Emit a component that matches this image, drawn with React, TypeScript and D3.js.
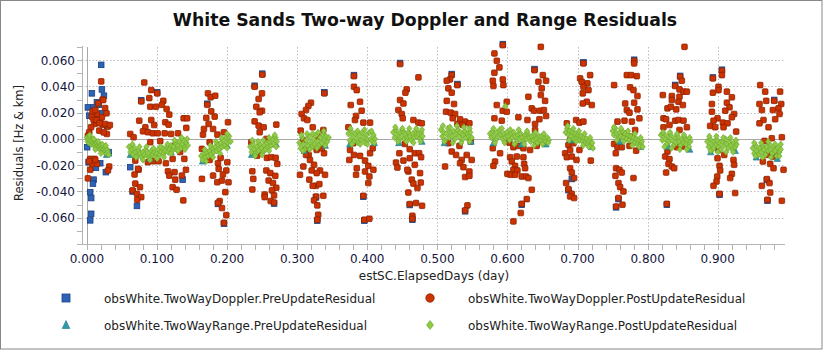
import React, { useEffect, useRef } from 'react';
import * as d3 from 'd3';

// chart text
const title = 'White Sands Two-way Doppler and Range Residuals';
const xLabel = 'estSC.ElapsedDays (day)';
const yLabel = 'Residuals [Hz & km]';
const seriesNames = [
  'obsWhite.TwoWayDoppler.PreUpdateResidual',
  'obsWhite.TwoWayDoppler.PostUpdateResidual',
  'obsWhite.TwoWayRange.PreUpdateResidual',
  'obsWhite.TwoWayRange.PostUpdateResidual',
];

// ticks
const xTicks = [0, 0.1, 0.2, 0.3, 0.4, 0.5, 0.6, 0.7, 0.8, 0.9];
const xTickLabels = ['0.000', '0.100', '0.200', '0.300', '0.400', '0.500', '0.600', '0.700', '0.800', '0.900'];
const yTicks = [-0.06, -0.04, -0.02, 0, 0.02, 0.04, 0.06];
const yTickLabels = ['-0.060', '-0.040', '-0.020', '0.000', '0.020', '0.040', '0.060'];
const xMinorTicks = d3.range(0, 50).map(i => i * 0.02);
const yMinorTicks = d3.range(-8, 8).map(i => i * 0.01);

type Pt = [number, number];

// Doppler pre-update residuals (blue, mostly hidden under post values)
const dopplerPre: Pt[] = [
  [0.0204, 0.0564], [0.0214, 0.0377], [0.0071, 0.0347], [0.0243, 0.0329], [0.0014, 0.024], [0.0143, 0.0279],
  [0.0095, 0.024], [0.0033, 0.0177], [0.0214, 0.0195], [0.0285, 0.0101], [0.0024, -0.0177], [0.019, -0.0185],
  [0.0128, -0.022], [0.0095, -0.031], [0.027, -0.0253], [0.0086, -0.034], [0.0047, -0.0405], [0.0061, -0.045],
  [0.0061, -0.057], [0.0047, -0.062], [0.0004, -0.0063], [0.031, -0.010], [0.0171, 0.026], [0.012, 0.018],
  [0.0714, -0.051], [0.0618, -0.0215], [0.1366, -0.031], [0.0775, 0.0295], [0.1003, 0.0355], [0.0652, -0.040],
  [0.1955, -0.0645], [0.1717, 0.0268], [0.187, -0.0495], [0.2502, 0.0497], [0.2393, 0.0405], [0.267, -0.0492],
  [0.3287, -0.0622], [0.3269, -0.0445], [0.3388, 0.0355], [0.381, 0.0486], [0.3958, -0.0622], [0.3944, -0.044],
  [0.4644, -0.0615], [0.4468, 0.0578], [0.4606, -0.0503], [0.5205, 0.0494], [0.5396, -0.0551], [0.5286, 0.0418],
  [0.5934, 0.0722], [0.6386, 0.0532], [0.6204, -0.0501], [0.7084, 0.0583], [0.6918, -0.0305], [0.687, -0.039],
  [0.7808, 0.0603], [0.7584, -0.0458], [0.755, -0.0521], [0.8464, 0.048], [0.8274, -0.0501], [0.8393, 0.0411],
  [0.906, 0.0527], [0.9026, -0.0425], [0.8931, 0.0468], [0.9701, -0.0313], [0.971, -0.047], [0.9806, 0.0297],
];

// Doppler post-update residuals (red)
const dopplerPost: Pt[] = [
  // pass 1
  [0.0204, 0.0438], [0.0224, 0.030], [0.026, 0.0235], [0.0143, 0.019], [0.0071, 0.017], [0.011, 0.0114],
  [0.019, 0.0144], [0.0224, 0.0109], [0.0176, 0.0063], [0.0033, 0.0051], [0.0014, 0.0025], [0.0285, 0.0038],
  [0.030, 0.0094], [0.026, 0.0114], [0.0214, 0.0165], [0.0095, 0.0144], [0.0047, -0.0152], [0.011, -0.0152],
  [0.0071, -0.019], [0.0047, -0.0235], [0.0014, -0.030], [0.0318, -0.021], [0.030, -0.024], [0.0033, -0.017],
  [0.0143, -0.019], [0.0119, -0.016], [0.0138, 0.0144], [0.0233, 0.0296], [0.028, 0.0195], [0.0328, 0.0106],
  [0.008, 0.021], [0.016, 0.027], [0.012, 0.022], [0.018, 0.012], [0.024, 0.005], [0.006, 0.009],
  // pass 2
  [0.0818, 0.043], [0.0918, 0.0372], [0.1003, 0.0347], [0.089, 0.0311], [0.0775, 0.0286], [0.109, 0.029],
  [0.107, 0.026], [0.0904, 0.0245], [0.0985, 0.0245], [0.1137, 0.0228], [0.1175, 0.0185], [0.138, 0.0157],
  [0.143, 0.0157], [0.0747, 0.0139], [0.0918, 0.0144], [0.1118, 0.0127], [0.0833, 0.0089], [0.096, 0.0106],
  [0.1166, 0.0109], [0.080, 0.0058], [0.087, 0.0051], [0.094, 0.0043], [0.101, 0.0043], [0.111, 0.0043],
  [0.120, 0.0038], [0.130, 0.0043], [0.1418, 0.0084], [0.0618, 0.0038], [0.0666, 0.0013], [0.0904, -0.0025],
  [0.1046, -0.0017], [0.126, -0.005], [0.133, -0.010], [0.139, -0.0152], [0.069, -0.0165], [0.087, -0.0177],
  [0.095, -0.017], [0.1023, -0.017], [0.1127, -0.0185], [0.1223, -0.0152], [0.0738, -0.0235], [0.1156, -0.0246],
  [0.125, -0.0253], [0.1413, -0.0235], [0.1356, -0.0279], [0.1175, -0.0279], [0.126, -0.031], [0.1223, -0.0367],
  [0.128, -0.0387], [0.069, -0.034], [0.0757, -0.0367], [0.0652, -0.0392], [0.0714, -0.0418], [0.0775, -0.0443],
  [0.0718, -0.0463], [0.1375, -0.0468], [0.073, -0.0228], [0.068, -0.0271],
  // pass 3
  [0.1727, 0.0347], [0.1766, 0.0317], [0.1831, 0.0329], [0.1717, 0.026], [0.1774, 0.021], [0.1823, 0.017],
  [0.1703, 0.016], [0.1737, 0.0114], [0.2013, 0.0127], [0.180, 0.0076], [0.167, 0.0076], [0.1862, 0.0033],
  [0.1955, 0.0051], [0.1656, 0.0033], [0.1751, -0.0025], [0.1641, -0.0076], [0.1703, -0.0114], [0.1751, -0.016],
  [0.1908, -0.0144], [0.2003, -0.0177], [0.187, -0.0185], [0.188, -0.0228], [0.1989, -0.024], [0.180, -0.0279],
  [0.1941, -0.0271], [0.1641, -0.0304], [0.186, -0.033], [0.202, -0.033], [0.1927, -0.0317], [0.1975, -0.0405],
  [0.1894, -0.0473], [0.1927, -0.0526], [0.1989, -0.058], [0.1955, -0.0638], [0.187, -0.0488],
  // pass 4
  [0.2502, 0.0489], [0.2393, 0.0397], [0.2498, 0.0347], [0.245, 0.0304], [0.2417, 0.0245], [0.2498, 0.0215],
  [0.2465, 0.0203], [0.2393, 0.0134], [0.2702, 0.0109], [0.245, 0.0101], [0.2522, 0.0089], [0.2465, 0.0051],
  [0.2345, -0.0025], [0.256, 0.000], [0.243, -0.0127], [0.2498, -0.0089], [0.2569, -0.0144], [0.263, -0.0139],
  [0.2693, -0.0144], [0.2716, -0.019], [0.236, -0.0246], [0.256, -0.024], [0.2617, -0.026], [0.2688, -0.0281],
  [0.2374, -0.0304], [0.2593, -0.0317], [0.2655, -0.0336], [0.2702, -0.0372], [0.236, -0.0385], [0.264, -0.0392],
  [0.267, -0.043], [0.2536, -0.0423], [0.2622, -0.0473], [0.267, -0.0484], [0.2536, -0.0443],
  // pass 5
  [0.3388, 0.0347], [0.3197, 0.0276], [0.316, 0.0251], [0.3126, 0.022], [0.3064, 0.019], [0.3097, 0.0157],
  [0.3145, 0.0144], [0.3222, 0.0089], [0.305, 0.0063], [0.3373, 0.0068], [0.3088, -0.0008], [0.330, 0.0018],
  [0.3112, -0.0084], [0.3164, -0.0122], [0.3278, -0.0084], [0.3383, -0.0109], [0.304, -0.0273], [0.3088, -0.021],
  [0.3183, -0.016], [0.324, -0.0197], [0.3207, -0.024], [0.3326, -0.024], [0.3278, -0.026], [0.3173, -0.031],
  [0.3397, -0.0273], [0.3269, -0.0357], [0.3316, -0.0344], [0.3373, -0.0433], [0.3269, -0.0438], [0.324, -0.0468],
  [0.3287, -0.0506], [0.330, -0.0577], [0.3287, -0.0615], [0.3222, -0.0357], [0.3126, -0.0122], [0.335, -0.0071],
  // pass 6
  [0.381, 0.0478], [0.381, 0.0397], [0.385, 0.0372], [0.3897, 0.0283], [0.3764, 0.0258], [0.384, 0.0175],
  [0.392, 0.0215], [0.3825, 0.0144], [0.3944, 0.0124], [0.404, 0.0124], [0.373, 0.0089], [0.380, -0.0033],
  [0.3754, -0.0084], [0.381, -0.0122], [0.3744, -0.016], [0.385, -0.0223], [0.3897, -0.0129], [0.3968, -0.0165],
  [0.404, -0.0109], [0.4078, -0.0071], [0.4015, -0.0205], [0.3968, -0.0248], [0.403, -0.0286], [0.384, -0.0273],
  [0.4015, -0.0336], [0.4087, -0.0235], [0.3944, -0.0433], [0.3958, -0.0615], [0.403, -0.0608],
  // pass 7
  [0.4468, 0.057], [0.473, 0.0469], [0.4563, 0.0377], [0.4544, 0.0352], [0.4468, 0.0296], [0.4516, 0.027],
  [0.4444, 0.022], [0.4492, 0.019], [0.4506, 0.0157], [0.4658, 0.0144], [0.473, 0.0124], [0.4778, 0.0119],
  [0.4535, -0.0038], [0.4606, -0.0078], [0.4678, -0.0109], [0.474, -0.0109], [0.4458, -0.0109], [0.4768, -0.0139],
  [0.4516, -0.0165], [0.4606, -0.0147], [0.441, -0.018], [0.443, -0.0218], [0.4678, -0.0197], [0.4586, -0.0248],
  [0.4753, -0.026], [0.4635, -0.031], [0.4658, -0.034], [0.4763, -0.0332], [0.4716, -0.0374], [0.4586, -0.0408],
  [0.4606, -0.0496], [0.4696, -0.0488], [0.4782, -0.0509], [0.4644, -0.0585], [0.4644, -0.0608], [0.4572, -0.0235],
  // pass 8
  [0.5205, 0.0486], [0.518, 0.0453], [0.5134, 0.0443], [0.5286, 0.041], [0.5157, 0.0385], [0.5205, 0.0352],
  [0.5134, 0.029], [0.5238, 0.0266], [0.5124, 0.0207], [0.5191, 0.020], [0.5253, 0.019], [0.5219, 0.0157],
  [0.5324, 0.015], [0.5396, 0.0132], [0.5286, 0.0114], [0.5362, 0.0106], [0.5457, 0.0119], [0.5477, -0.002],
  [0.5157, -0.0033], [0.5315, -0.0053], [0.5205, -0.0096], [0.5267, -0.0122], [0.5348, -0.016], [0.5419, -0.0122],
  [0.549, -0.016], [0.511, -0.021], [0.5324, -0.0185], [0.5372, -0.0215], [0.5457, -0.0248], [0.5396, -0.029],
  [0.5457, -0.0281], [0.5429, -0.0506], [0.5396, -0.0544],
  // pass 9
  [0.5934, 0.0714], [0.5814, 0.0651], [0.5848, 0.0595], [0.5885, 0.0545], [0.5814, 0.0504], [0.6476, 0.0701],
  [0.5791, 0.0443], [0.5934, 0.0453], [0.580, 0.0403], [0.5942, 0.041], [0.6386, 0.0524], [0.6505, 0.0486],
  [0.6442, 0.0435], [0.6551, 0.0443], [0.6489, 0.0385], [0.6299, 0.0321], [0.6476, 0.0334], [0.6537, 0.029],
  [0.5848, 0.0258], [0.599, 0.0283], [0.5933, 0.0215], [0.599, 0.0207], [0.6347, 0.0233], [0.638, 0.0215],
  [0.6466, 0.0215], [0.652, 0.022], [0.5814, 0.0157], [0.5919, 0.0139], [0.6156, 0.0165], [0.6285, 0.0144],
  [0.6456, 0.015], [0.6551, 0.0175], [0.6394, 0.0114], [0.6394, 0.0068], [0.6027, -0.0028], [0.6085, -0.0063],
  [0.6156, -0.0053], [0.6228, -0.0071], [0.6323, -0.0084], [0.6418, -0.0053], [0.5791, -0.0071], [0.5895, -0.0109],
  [0.6038, -0.0139], [0.6133, -0.0134], [0.6228, -0.0139], [0.5823, -0.0172], [0.580, -0.0205], [0.6062, -0.0172],
  [0.6109, -0.0205], [0.6238, -0.019], [0.6252, -0.0223], [0.6085, -0.0235], [0.6142, -0.024], [0.5999, -0.0266],
  [0.6047, -0.0273], [0.6109, -0.0273], [0.6204, -0.0286], [0.6266, -0.0286], [0.6299, -0.0298], [0.6347, -0.0387],
  [0.6276, -0.0458], [0.6204, -0.0494], [0.619, -0.0564], [0.6085, -0.0628],
  // pass 10
  [0.7084, 0.0575], [0.7037, 0.0461], [0.718, 0.0486], [0.7061, 0.0435], [0.714, 0.0423], [0.7084, 0.0397],
  [0.7156, 0.0372], [0.7075, 0.0347], [0.7132, 0.0283], [0.7203, 0.0258], [0.7075, 0.027], [0.698, 0.0144],
  [0.7027, 0.0124], [0.7084, 0.0132], [0.6847, 0.0119], [0.6894, -0.0008], [0.687, -0.0046], [0.6942, -0.0033],
  [0.6823, -0.0109], [0.6894, -0.0084], [0.7027, -0.0084], [0.6847, -0.0139], [0.6918, -0.0134], [0.6985, -0.016],
  [0.7189, -0.0165], [0.6894, -0.0223], [0.6918, -0.0256], [0.6951, -0.0298], [0.6837, -0.0336], [0.687, -0.0382],
  [0.6918, -0.0418], [0.6894, -0.0438], [0.6951, -0.045],
  // pass 11
  [0.7808, 0.0595], [0.7808, 0.0575], [0.7703, 0.0486], [0.7765, 0.0486], [0.7846, 0.0478], [0.7522, 0.041],
  [0.775, 0.0393], [0.7798, 0.0372], [0.7855, 0.0327], [0.768, 0.027], [0.7808, 0.0276], [0.7703, 0.022],
  [0.7741, 0.020], [0.7855, 0.0225], [0.767, 0.0139], [0.757, 0.0132], [0.7775, 0.0132], [0.7883, 0.0157],
  [0.7646, 0.003], [0.775, 0.0018], [0.7822, 0.0068], [0.7522, -0.0038], [0.757, -0.0063], [0.7632, -0.0063],
  [0.7741, -0.0053], [0.7836, -0.0089], [0.7546, -0.0109], [0.755, -0.0223], [0.7598, -0.0235], [0.7632, -0.0256],
  [0.7541, -0.0281], [0.7584, -0.0336], [0.7608, -0.0367], [0.7655, -0.040], [0.7798, -0.0298], [0.7584, -0.045],
  [0.755, -0.0514], [0.7641, -0.0501],
  // pass 12
  [0.8526, 0.0701], [0.8464, 0.0473], [0.8488, 0.0443], [0.8393, 0.0403], [0.8455, 0.0377], [0.8512, 0.036],
  [0.856, 0.036], [0.8217, 0.0334], [0.8346, 0.0327], [0.8346, 0.0296], [0.8455, 0.0321], [0.844, 0.0283],
  [0.8503, 0.0258], [0.8283, 0.0233], [0.8331, 0.0245], [0.8408, 0.0225], [0.8226, 0.0157], [0.8264, 0.015],
  [0.8393, 0.0139], [0.844, 0.0144], [0.8512, 0.0139], [0.856, 0.0089], [0.8312, 0.0106], [0.8226, 0.0089],
  [0.8455, 0.0068], [0.8283, -0.0096], [0.825, -0.0134], [0.8312, -0.0154], [0.8298, -0.019], [0.8346, -0.021],
  [0.8264, -0.0256], [0.8379, -0.0223], [0.8274, -0.0494], [0.8417, -0.0063], [0.8488, -0.0058],
  // pass 13
  [0.906, 0.0519], [0.906, 0.0486], [0.8931, 0.0461], [0.9011, 0.0397], [0.9011, 0.0372], [0.9131, 0.036],
  [0.8931, 0.0352], [0.9202, 0.0317], [0.9131, 0.0276], [0.8917, 0.0266], [0.9168, 0.0241], [0.9107, 0.0215],
  [0.8917, 0.0207], [0.9234, 0.019], [0.8997, 0.0157], [0.9202, 0.0165], [0.894, 0.0139], [0.9074, 0.0124],
  [0.914, 0.0119], [0.8892, 0.0099], [0.8964, 0.0089], [0.9083, 0.0089], [0.9263, 0.0056], [0.9011, -0.0084],
  [0.9093, -0.0122], [0.8997, -0.0147], [0.9225, -0.016], [0.9234, -0.0197], [0.9026, -0.0205], [0.9035, -0.024],
  [0.9202, -0.0266], [0.8993, -0.0286], [0.9178, -0.0298], [0.8983, -0.0324], [0.894, -0.0357], [0.9026, -0.0418],
  [0.9249, -0.0412],
  // pass 14
  [0.9606, 0.041], [0.989, 0.036], [0.9677, 0.036], [0.9806, 0.029], [0.9692, 0.029], [0.9906, 0.0266],
  [0.9596, 0.0266], [0.9867, 0.0233], [0.9787, 0.022], [0.963, 0.022], [0.9882, 0.019], [0.982, 0.015],
  [0.9653, 0.0144], [0.9596, 0.0119], [0.9725, 0.0089], [0.9915, 0.0013], [0.9772, 0.0005], [0.9667, -0.0015],
  [0.963, -0.0071], [0.9701, -0.0122], [0.9644, -0.0172], [0.9749, -0.019], [0.9796, -0.0223], [0.9939, -0.0235],
  [0.9701, -0.0306], [0.9739, -0.0336], [0.963, -0.0357], [0.9749, -0.0408], [0.971, -0.0463], [0.9915, -0.0471],
  [0.9787, -0.0134], [0.9844, -0.0109],
];

// Range pre-update residuals (teal, peeking under the green band)
const rangePre: Pt[] = [
  [0.028, -0.012], [0.031, -0.011], [0.062, -0.012], [0.09, -0.015], [0.12, -0.010], [0.165, -0.017],
  [0.20, -0.005], [0.235, -0.012], [0.27, -0.004], [0.31, -0.009], [0.34, -0.005], [0.375, -0.004],
  [0.41, -0.003], [0.445, -0.003], [0.478, -0.002], [0.51, -0.003], [0.548, -0.002], [0.58, -0.003],
  [0.62, -0.004], [0.655, -0.004], [0.69, -0.001], [0.72, -0.006], [0.76, -0.002], [0.79, -0.006],
  [0.83, -0.006], [0.86, -0.008], [0.89, -0.010], [0.925, -0.009], [0.955, -0.014], [0.985, -0.015],
];

// Range post-update residuals (green)
const rangePost: Pt[] = [
  // pass 1
  [0.000, 0.001], [0.001, -0.002], [0.002, 0.000], [0.003, -0.003], [0.004, 0.001], [0.005, -0.001],
  [0.006, -0.004], [0.007, -0.002], [0.008, 0.000], [0.009, -0.003], [0.010, -0.005], [0.011, -0.002],
  [0.012, -0.004], [0.013, -0.006], [0.014, -0.003], [0.015, -0.005], [0.016, -0.007], [0.017, -0.004],
  [0.018, -0.006], [0.019, -0.008], [0.020, -0.005], [0.021, -0.007], [0.022, -0.009], [0.023, -0.006],
  [0.024, -0.008], [0.025, -0.010], [0.026, -0.007], [0.027, -0.009], [0.028, -0.011], [0.029, -0.008],
  [0.030, -0.010], [0.004, 0.003], [0.010, 0.000], [0.016, -0.002], [0.022, -0.004], [0.027, -0.005],
  [0.012, -0.008], [0.020, -0.011], [0.031, -0.012],
  // pass 2
  [0.060, -0.006], [0.062, -0.010], [0.064, -0.008], [0.066, -0.012], [0.068, -0.007], [0.070, -0.010],
  [0.072, -0.013], [0.074, -0.009], [0.076, -0.011], [0.078, -0.014], [0.080, -0.010], [0.082, -0.012],
  [0.084, -0.008], [0.086, -0.013], [0.088, -0.011], [0.090, -0.014], [0.092, -0.009], [0.094, -0.012],
  [0.096, -0.010], [0.098, -0.013], [0.100, -0.011], [0.102, -0.008], [0.104, -0.012], [0.106, -0.010],
  [0.108, -0.007], [0.110, -0.011], [0.112, -0.009], [0.114, -0.006], [0.116, -0.010], [0.118, -0.008],
  [0.120, -0.005], [0.122, -0.009], [0.124, -0.006], [0.126, -0.003], [0.128, -0.008], [0.130, -0.005],
  [0.132, -0.002], [0.134, -0.007], [0.136, -0.004], [0.138, -0.001], [0.140, -0.006], [0.142, -0.003],
  [0.144, -0.005], [0.065, -0.004], [0.075, -0.006], [0.085, -0.006], [0.095, -0.007], [0.105, -0.006],
  [0.115, -0.004], [0.125, -0.001], [0.135, 0.001], [0.143, 0.000], [0.070, -0.014], [0.080, -0.016],
  [0.090, -0.016], [0.100, -0.015], [0.110, -0.014], [0.120, -0.011], [0.130, -0.009], [0.140, -0.008],
  // pass 3
  [0.163, -0.013], [0.165, -0.016], [0.167, -0.011], [0.169, -0.014], [0.171, -0.010], [0.173, -0.013],
  [0.175, -0.009], [0.177, -0.012], [0.179, -0.007], [0.181, -0.010], [0.183, -0.006], [0.185, -0.009],
  [0.187, -0.004], [0.189, -0.008], [0.191, -0.003], [0.193, -0.006], [0.195, -0.001], [0.197, -0.005],
  [0.199, 0.001], [0.201, -0.003], [0.203, 0.002], [0.205, -0.002], [0.168, -0.008], [0.176, -0.005],
  [0.184, -0.002], [0.192, 0.001], [0.200, 0.004], [0.170, -0.017], [0.180, -0.014], [0.190, -0.011],
  [0.200, -0.007],
  // pass 4
  [0.233, -0.006], [0.235, -0.010], [0.237, -0.004], [0.239, -0.008], [0.241, -0.011], [0.243, -0.006],
  [0.245, -0.009], [0.247, -0.004], [0.249, -0.007], [0.251, -0.010], [0.253, -0.005], [0.255, -0.008],
  [0.257, -0.003], [0.259, -0.006], [0.261, -0.002], [0.263, -0.005], [0.265, 0.000], [0.267, -0.004],
  [0.269, 0.001], [0.271, -0.002], [0.236, -0.001], [0.244, -0.002], [0.252, -0.001], [0.260, 0.001],
  [0.268, 0.003], [0.240, -0.013], [0.250, -0.012], [0.260, -0.009], [0.270, -0.006],
  // pass 5
  [0.303, -0.003], [0.305, -0.007], [0.307, 0.001], [0.309, -0.004], [0.311, -0.008], [0.313, -0.001],
  [0.315, -0.005], [0.317, 0.002], [0.319, -0.003], [0.321, -0.006], [0.323, 0.000], [0.325, -0.004],
  [0.327, 0.003], [0.329, -0.002], [0.331, -0.005], [0.333, 0.001], [0.335, -0.003], [0.337, 0.003],
  [0.339, -0.001], [0.341, 0.002], [0.343, -0.002], [0.345, 0.001], [0.306, 0.003], [0.314, 0.004],
  [0.322, 0.004], [0.330, 0.005], [0.338, 0.006], [0.308, -0.009], [0.318, -0.008], [0.328, -0.007],
  [0.340, -0.005],
  // pass 6
  [0.373, 0.004], [0.375, -0.001], [0.377, 0.006], [0.379, 0.002], [0.381, -0.002], [0.383, 0.004],
  [0.385, 0.000], [0.387, -0.003], [0.389, 0.003], [0.391, -0.001], [0.393, 0.005], [0.395, 0.001],
  [0.397, -0.003], [0.399, 0.003], [0.401, -0.001], [0.403, 0.005], [0.405, 0.000], [0.407, -0.002],
  [0.409, 0.003], [0.411, 0.000], [0.376, 0.008], [0.386, 0.006], [0.396, 0.007], [0.406, 0.006],
  [0.378, -0.004], [0.390, -0.004], [0.400, -0.004], [0.410, -0.003],
  // pass 7
  [0.437, 0.005], [0.439, 0.001], [0.441, 0.007], [0.443, 0.003], [0.445, -0.001], [0.447, 0.005],
  [0.449, 0.002], [0.451, 0.006], [0.453, 0.000], [0.455, 0.004], [0.457, 0.001], [0.459, 0.005],
  [0.461, 0.002], [0.463, -0.001], [0.465, 0.004], [0.467, 0.001], [0.469, 0.006], [0.471, 0.002],
  [0.473, 0.004], [0.475, 0.000], [0.477, 0.005], [0.479, 0.002], [0.440, 0.009], [0.450, 0.008],
  [0.460, 0.008], [0.470, 0.008], [0.478, 0.007], [0.444, -0.002], [0.456, -0.002], [0.466, -0.003],
  [0.476, -0.002],
  // pass 8
  [0.505, 0.007], [0.507, 0.002], [0.509, 0.005], [0.511, -0.001], [0.513, 0.004], [0.515, 0.008],
  [0.517, 0.001], [0.519, 0.005], [0.521, 0.002], [0.523, 0.006], [0.525, 0.000], [0.527, 0.004],
  [0.529, 0.007], [0.531, 0.002], [0.533, 0.005], [0.535, -0.001], [0.537, 0.003], [0.539, 0.006],
  [0.541, 0.001], [0.543, 0.004], [0.545, 0.002], [0.547, 0.005], [0.549, 0.001], [0.508, 0.010],
  [0.518, 0.009], [0.528, 0.010], [0.538, 0.009], [0.546, 0.008], [0.510, -0.002], [0.522, -0.003],
  [0.534, -0.003], [0.546, -0.002],
  // pass 9
  [0.575, 0.004], [0.577, 0.001], [0.579, 0.006], [0.581, 0.002], [0.583, -0.001], [0.585, 0.005],
  [0.587, 0.002], [0.589, 0.007], [0.591, 0.003], [0.593, 0.000], [0.595, 0.004], [0.597, 0.001],
  [0.599, 0.005], [0.601, 0.002], [0.603, -0.001], [0.605, 0.004], [0.607, 0.001], [0.609, 0.005],
  [0.611, 0.002], [0.613, -0.002], [0.615, 0.003], [0.617, 0.000], [0.619, 0.004], [0.621, 0.001],
  [0.623, -0.002], [0.625, 0.003], [0.627, 0.000], [0.629, 0.004], [0.631, 0.001], [0.633, -0.002],
  [0.635, 0.002], [0.637, -0.001], [0.639, 0.003], [0.641, 0.000], [0.643, -0.003], [0.645, 0.002],
  [0.647, -0.001], [0.649, 0.002], [0.651, -0.002], [0.653, 0.001], [0.655, -0.002], [0.657, 0.001],
  [0.659, -0.001], [0.597, 0.025], [0.580, 0.008], [0.592, 0.008], [0.604, 0.007], [0.616, 0.007],
  [0.628, 0.006], [0.640, 0.005], [0.652, 0.004], [0.582, -0.003], [0.596, -0.003], [0.610, -0.004],
  [0.624, -0.004], [0.638, -0.005], [0.650, -0.004], [0.658, -0.003],
  // pass 10
  [0.683, 0.005], [0.685, 0.008], [0.687, 0.003], [0.689, 0.006], [0.691, 0.002], [0.693, 0.005],
  [0.695, 0.000], [0.697, 0.004], [0.699, 0.001], [0.701, 0.003], [0.703, -0.001], [0.705, 0.002],
  [0.707, -0.002], [0.709, 0.001], [0.711, -0.003], [0.713, 0.000], [0.715, -0.004], [0.717, -0.001],
  [0.719, -0.005], [0.721, -0.003], [0.686, 0.010], [0.694, 0.008], [0.702, 0.006], [0.710, 0.004],
  [0.718, 0.001], [0.688, -0.001], [0.698, -0.002], [0.708, -0.005], [0.716, -0.006], [0.722, -0.007],
  // pass 11
  [0.750, 0.006], [0.752, 0.003], [0.754, 0.008], [0.756, 0.004], [0.758, 0.001], [0.760, 0.005],
  [0.762, 0.002], [0.764, 0.006], [0.766, 0.001], [0.768, 0.004], [0.770, 0.000], [0.772, 0.003],
  [0.774, -0.001], [0.776, 0.002], [0.778, -0.002], [0.780, 0.001], [0.782, -0.003], [0.784, 0.000],
  [0.786, -0.004], [0.788, -0.001], [0.790, -0.004], [0.792, -0.002], [0.752, 0.009], [0.762, 0.008],
  [0.772, 0.006], [0.782, 0.004], [0.790, 0.001], [0.756, -0.001], [0.766, -0.002], [0.778, -0.005],
  [0.788, -0.006], [0.793, -0.006],
  // pass 12
  [0.819, 0.003], [0.821, -0.001], [0.823, 0.004], [0.825, 0.000], [0.827, -0.004], [0.829, 0.002],
  [0.831, -0.002], [0.833, 0.003], [0.835, -0.001], [0.837, -0.005], [0.839, 0.001], [0.841, -0.003],
  [0.843, 0.002], [0.845, -0.002], [0.847, -0.005], [0.849, 0.000], [0.851, -0.003], [0.853, 0.001],
  [0.855, -0.004], [0.857, -0.001], [0.859, -0.006], [0.861, -0.002], [0.822, 0.005], [0.832, 0.005],
  [0.842, 0.004], [0.852, 0.003], [0.860, 0.001], [0.824, -0.006], [0.834, -0.007], [0.846, -0.008],
  [0.856, -0.008],
  // pass 13
  [0.885, -0.002], [0.887, -0.006], [0.889, 0.000], [0.891, -0.004], [0.893, -0.008], [0.895, -0.002],
  [0.897, -0.005], [0.899, -0.001], [0.901, -0.006], [0.903, -0.003], [0.905, -0.008], [0.907, -0.002],
  [0.909, -0.005], [0.911, 0.000], [0.913, -0.004], [0.915, -0.007], [0.917, -0.002], [0.919, -0.005],
  [0.921, -0.008], [0.923, -0.003], [0.925, -0.006], [0.927, -0.004], [0.888, 0.002], [0.898, 0.002],
  [0.908, 0.001], [0.918, 0.001], [0.926, -0.001], [0.890, -0.009], [0.900, -0.010], [0.912, -0.010],
  [0.922, -0.010],
  // pass 14
  [0.950, -0.007], [0.952, -0.011], [0.954, -0.005], [0.956, -0.009], [0.958, -0.012], [0.960, -0.007],
  [0.962, -0.010], [0.964, -0.005], [0.966, -0.008], [0.968, -0.012], [0.970, -0.006], [0.972, -0.009],
  [0.974, -0.004], [0.976, -0.008], [0.978, -0.011], [0.980, -0.006], [0.982, -0.009], [0.984, -0.013],
  [0.986, -0.007], [0.988, -0.010], [0.990, -0.008], [0.952, -0.003], [0.962, -0.003], [0.972, -0.002],
  [0.982, -0.004], [0.990, -0.004], [0.954, -0.013], [0.964, -0.014], [0.976, -0.014], [0.988, -0.013],
];

const W = 824;
const H = 351;
const font = '"DejaVu Sans", Verdana, sans-serif';

const diamond = 'M0,-3.2L2.7,0L0,3.2L-2.7,0Z';
const triangle = 'M0,-3.4L3.2,2.8L-3.2,2.8Z';

const App = () => {
  const svgRef = useRef<SVGSVGElement>(null);

  useEffect(() => {
    document.body.style.margin = '0';
    const svg = d3.select(svgRef.current);
    svg.selectAll('*').remove();

    const x = d3.scaleLinear().domain([-0.007, 0.996]).range([82, 785]);
    const y = d3.scaleLinear().domain([-0.08, 0.07]).range([244, 47]);

    svg.append('rect')
      .attr('x', 0.5).attr('y', 0.5)
      .attr('width', W - 2.5).attr('height', H - 2.5)
      .attr('fill', '#fff').attr('stroke', '#888');

    svg.append('text')
      .attr('x', 425).attr('y', 26)
      .attr('text-anchor', 'middle')
      .attr('font-family', font).attr('font-weight', 'bold').attr('font-size', 17.3)
      .attr('fill', '#111')
      .text(title);

    // grid
    const grid = svg.append('g');
    grid.selectAll('.gy').data(yTicks.filter(v => v !== 0)).enter().append('line')
      .attr('x1', 82).attr('x2', 785)
      .attr('y1', d => Math.round(y(d)) + 0.5).attr('y2', d => Math.round(y(d)) + 0.5)
      .attr('stroke', '#bdbdbd').attr('stroke-dasharray', '1.5,2');
    grid.selectAll('.gx').data(xTicks.filter(v => v !== 0)).enter().append('line')
      .attr('x1', d => Math.round(x(d)) + 0.5).attr('x2', d => Math.round(x(d)) + 0.5)
      .attr('y1', 47).attr('y2', 244)
      .attr('stroke', '#bdbdbd').attr('stroke-dasharray', '1.5,2');
    grid.append('line')
      .attr('x1', 82).attr('x2', 785)
      .attr('y1', Math.round(y(0)) + 0.5).attr('y2', Math.round(y(0)) + 0.5)
      .attr('stroke', '#a8a8a8');
    grid.append('line')
      .attr('x1', Math.round(x(0)) + 0.5).attr('x2', Math.round(x(0)) + 0.5)
      .attr('y1', 47).attr('y2', 244)
      .attr('stroke', '#a8a8a8');

    // axes
    const axes = svg.append('g').attr('stroke', '#b4b4b4');
    axes.append('line').attr('x1', 82.5).attr('x2', 82.5).attr('y1', 46).attr('y2', 245);
    axes.append('line').attr('x1', 82).attr('x2', 785).attr('y1', 244.5).attr('y2', 244.5);
    axes.selectAll('.ty').data(yMinorTicks).enter().append('line')
      .attr('x1', 77).attr('x2', 82)
      .attr('y1', d => Math.round(y(d)) + 0.5).attr('y2', d => Math.round(y(d)) + 0.5);
    axes.selectAll('.tx').data(xMinorTicks).enter().append('line')
      .attr('x1', d => Math.round(x(d)) + 0.5).attr('x2', d => Math.round(x(d)) + 0.5)
      .attr('y1', 245).attr('y2', 250);

    const labels = svg.append('g').attr('font-family', font).attr('font-size', 12).attr('fill', '#14143c');
    labels.selectAll('.ly').data(yTicks).enter().append('text')
      .attr('x', 75).attr('y', d => y(d) + 4.5)
      .attr('text-anchor', 'end')
      .text((d, i) => yTickLabels[i]);
    labels.selectAll('.lx').data(xTicks).enter().append('text')
      .attr('x', d => x(d)).attr('y', 263)
      .attr('text-anchor', 'middle')
      .text((d, i) => xTickLabels[i]);

    svg.append('text')
      .attr('transform', 'translate(23,143) rotate(-90)')
      .attr('text-anchor', 'middle')
      .attr('font-family', font).attr('font-size', 11.5).attr('fill', '#222')
      .text(yLabel);
    svg.append('text')
      .attr('x', 434).attr('y', 280)
      .attr('text-anchor', 'middle')
      .attr('font-family', font).attr('font-size', 12).attr('fill', '#222')
      .text(xLabel);

    // points
    const plot = svg.append('g');
    plot.selectAll('.dpre').data(dopplerPre).enter().append('rect')
      .attr('x', d => x(d[0]) - 2.8).attr('y', d => y(d[1]) - 2.8)
      .attr('width', 5.6).attr('height', 5.6)
      .attr('fill', '#2d63b5').attr('stroke', '#1b3f82').attr('stroke-width', 0.8);
    plot.selectAll('.dpost').data(dopplerPost).enter().append('rect')
      .attr('x', d => x(d[0]) - 2.8).attr('y', d => y(d[1]) - 2.8)
      .attr('width', 5.6).attr('height', 5.6).attr('rx', 1)
      .attr('fill', '#cc3300').attr('stroke', '#8c2200').attr('stroke-width', 0.8);
    plot.selectAll('.rpre').data(rangePre).enter().append('path')
      .attr('d', triangle)
      .attr('transform', d => `translate(${x(d[0])},${y(d[1])})`)
      .attr('fill', '#2f9aa8').attr('stroke', '#207585').attr('stroke-width', 0.6);
    plot.selectAll('.rpost').data(rangePost).enter().append('path')
      .attr('d', diamond)
      .attr('transform', d => `translate(${x(d[0])},${y(d[1])})`)
      .attr('fill', '#8fca42').attr('stroke', '#68a530').attr('stroke-width', 0.6);

    // legend
    const legend = svg.append('g').attr('font-family', font).attr('font-size', 12).attr('fill', '#222');
    const rows = [
      { cy: 298, tx: 104, name: seriesNames[0] },
      { cy: 298, tx: 468, name: seriesNames[1] },
      { cy: 325, tx: 104, name: seriesNames[2] },
      { cy: 325, tx: 468, name: seriesNames[3] },
    ];
    rows.forEach(r => {
      legend.append('text').attr('x', r.tx).attr('y', r.cy + 4.5).text(r.name);
    });
    legend.append('rect').attr('x', 62).attr('y', 294).attr('width', 8).attr('height', 8)
      .attr('fill', '#2d63b5').attr('stroke', '#1b3f82').attr('stroke-width', 0.8);
    legend.append('circle').attr('cx', 430).attr('cy', 298).attr('r', 4.2)
      .attr('fill', '#cc3300').attr('stroke', '#8c2200').attr('stroke-width', 0.8);
    legend.append('path').attr('d', 'M0,-4.5L3.8,3.5L-3.8,3.5Z').attr('transform', 'translate(66,325)')
      .attr('fill', '#2f9aa8').attr('stroke', '#207585').attr('stroke-width', 0.6);
    legend.append('path').attr('d', 'M0,-4.5L3.5,0L0,4.5L-3.5,0Z').attr('transform', 'translate(430,325)')
      .attr('fill', '#8fca42').attr('stroke', '#68a530').attr('stroke-width', 0.6);
  }, []);

  return <svg ref={svgRef} width={W} height={H} style={{ display: 'block' }} />;
};

export default App;
